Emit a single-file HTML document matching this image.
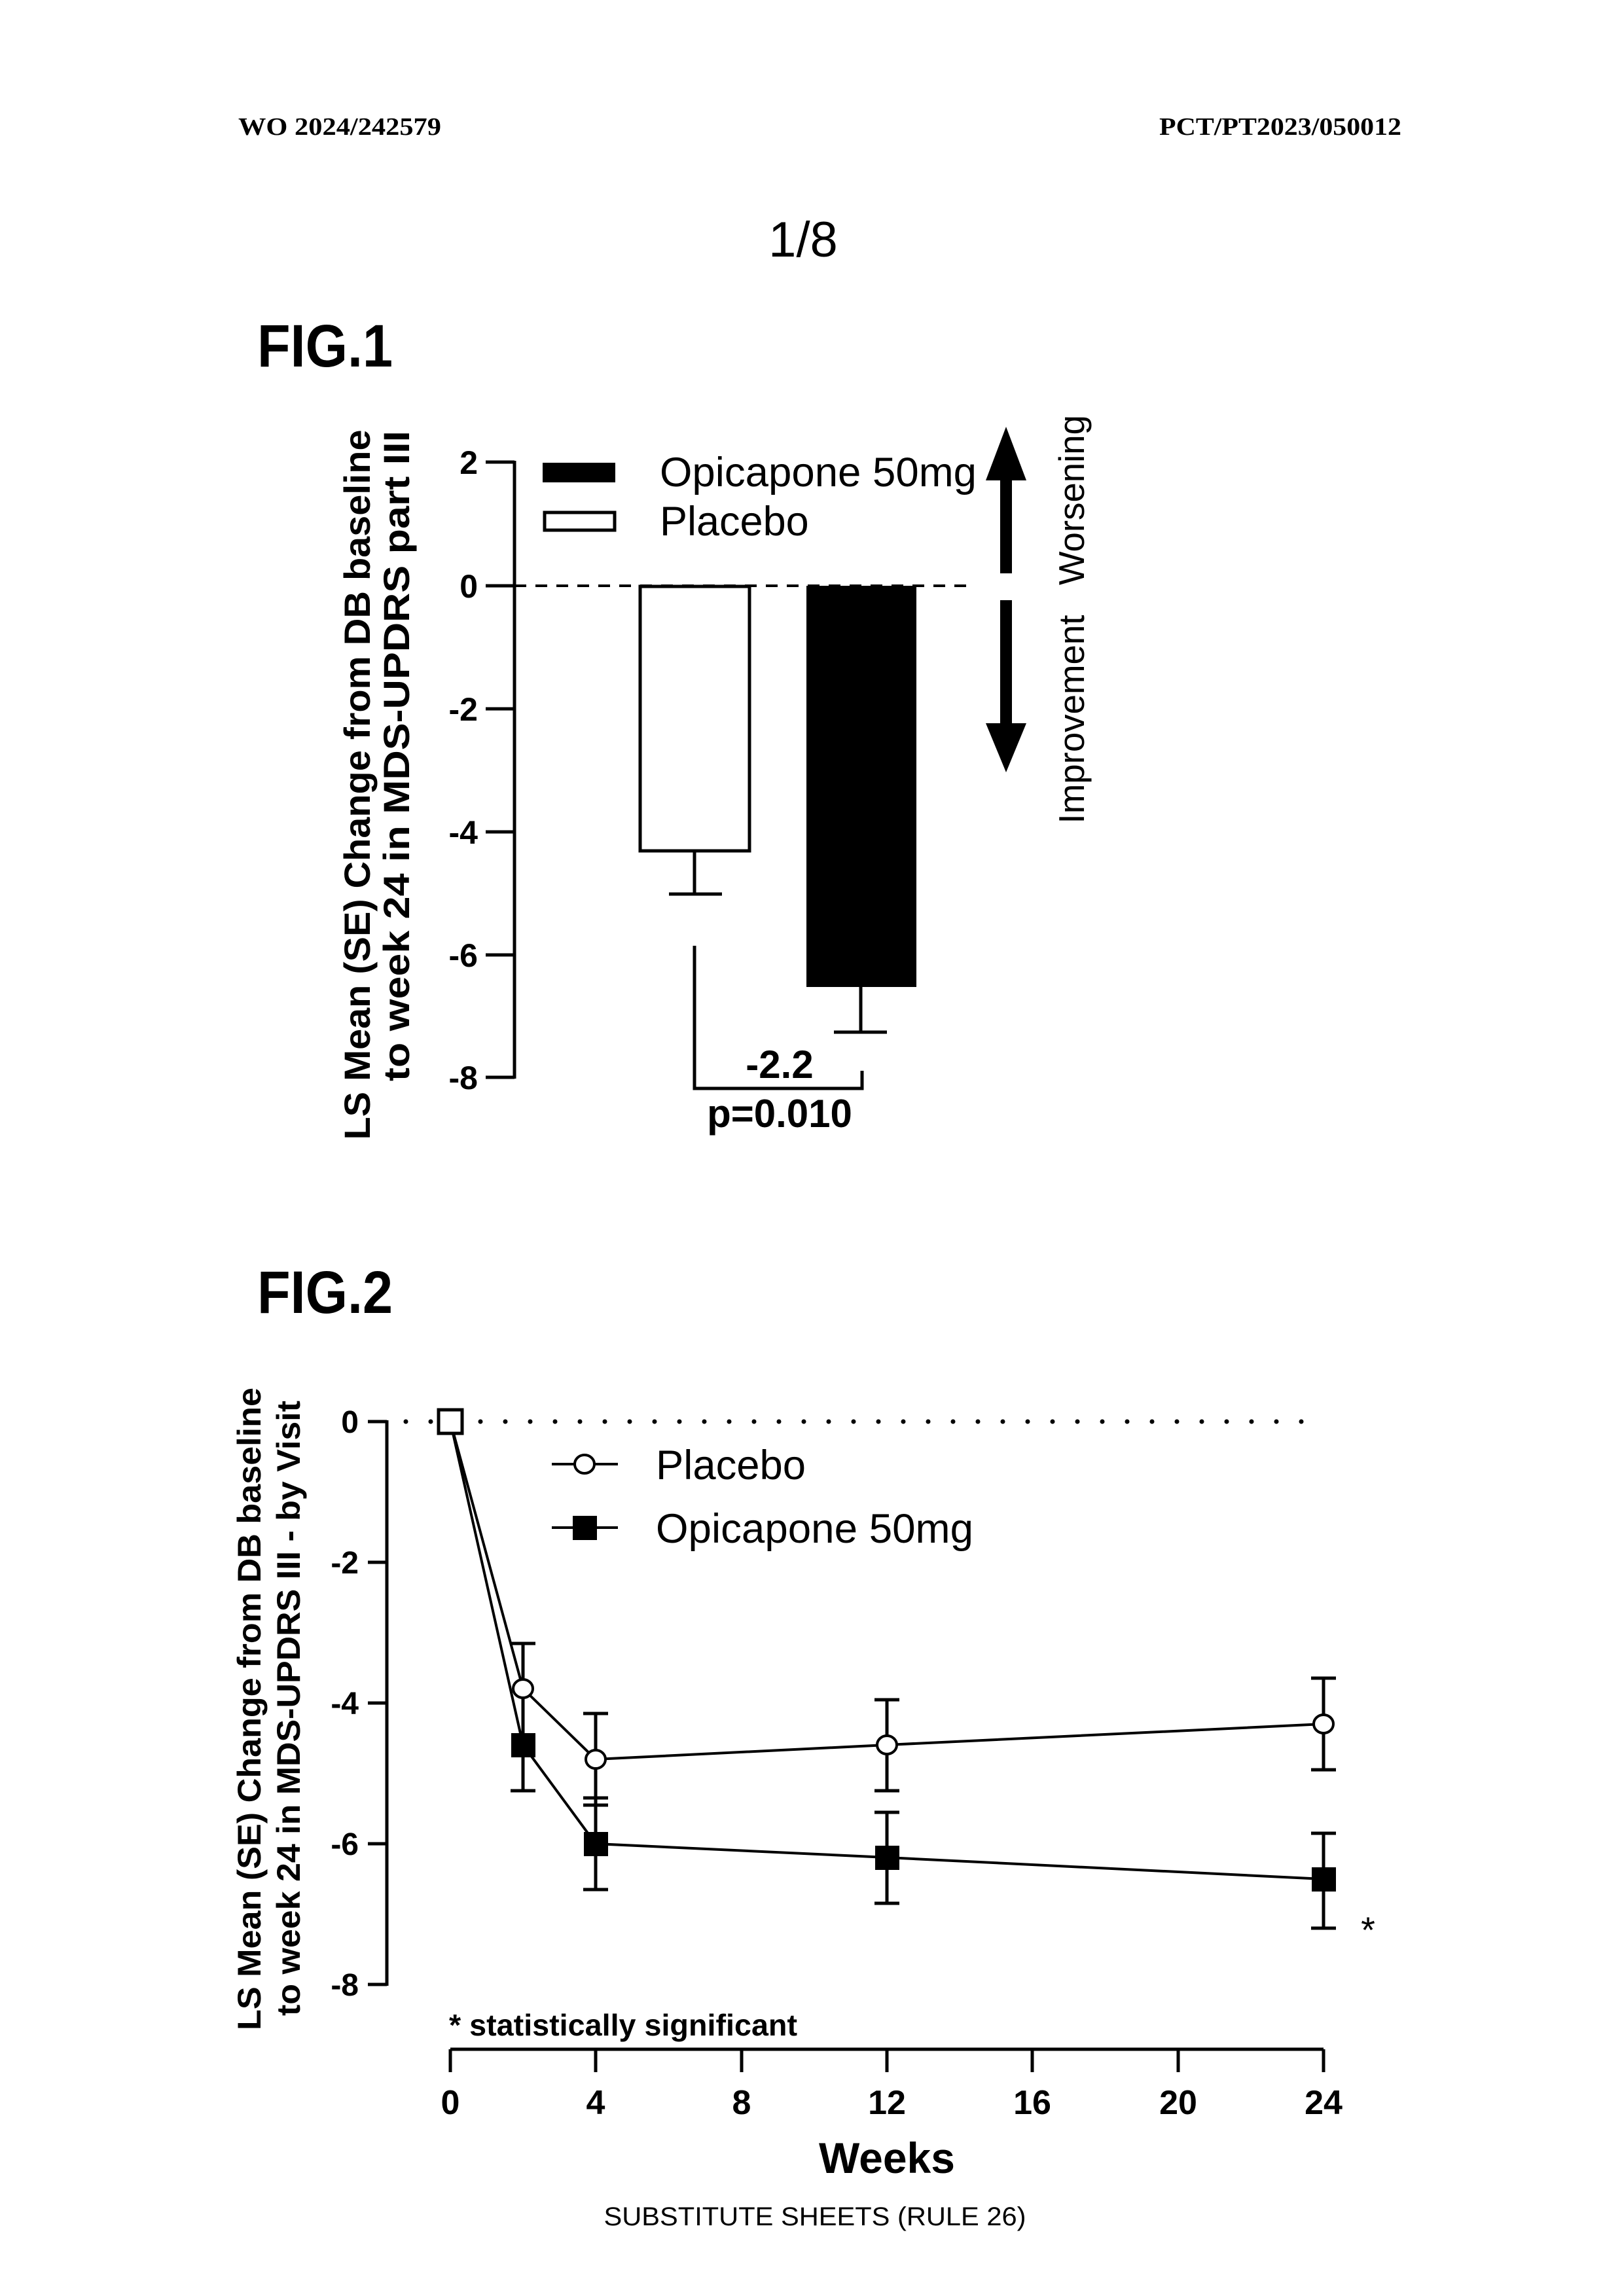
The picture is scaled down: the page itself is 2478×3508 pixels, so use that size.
<!DOCTYPE html>
<html><head><meta charset="utf-8"><style>
html,body{margin:0;padding:0;background:#fff;}
svg{display:block;}
text{font-family:"Liberation Sans",Arial,sans-serif;fill:#000;}
</style></head><body>
<svg width="2478" height="3508" viewBox="0 0 2478 3508" xmlns="http://www.w3.org/2000/svg">
<rect width="2478" height="3508" fill="#fff"/>
<!-- header -->
<text x="364" y="206" style="font-family:'Liberation Serif',serif;font-weight:bold;font-size:38px" textLength="310" lengthAdjust="spacingAndGlyphs">WO 2024/242579</text>
<text x="1771" y="206" style="font-family:'Liberation Serif',serif;font-weight:bold;font-size:38px" textLength="370" lengthAdjust="spacingAndGlyphs">PCT/PT2023/050012</text>
<text x="1227" y="392" text-anchor="middle" font-size="76">1/8</text>
<text x="393" y="560" font-size="92" font-weight="bold" textLength="207" lengthAdjust="spacingAndGlyphs">FIG.1</text>

<!-- FIG1 -->
<g stroke="#000" stroke-width="5" fill="none">
<line x1="786" y1="704" x2="786" y2="1648"/>
<line x1="742" y1="706" x2="786" y2="706"/>
<line x1="742" y1="895" x2="786" y2="895"/>
<line x1="742" y1="1083" x2="786" y2="1083"/>
<line x1="742" y1="1271" x2="786" y2="1271"/>
<line x1="742" y1="1459" x2="786" y2="1459"/>
<line x1="742" y1="1646" x2="786" y2="1646"/>
<line x1="786" y1="895" x2="1485" y2="895" stroke-width="4" stroke-dasharray="18 14"/>
<rect x="978" y="896" width="167" height="404" fill="#fff"/>
<line x1="1061" y1="1300" x2="1061" y2="1366"/>
<line x1="1022" y1="1366" x2="1103" y2="1366"/>
<line x1="1315" y1="1508" x2="1315" y2="1577"/>
<line x1="1274" y1="1577" x2="1355" y2="1577"/>
<polyline points="1061,1445 1061,1663 1317,1663 1317,1636"/>
<rect x="832" y="783" width="107" height="27" fill="#fff"/>
</g>
<rect x="1232" y="895" width="168" height="613" fill="#000"/>
<rect x="829" y="707" width="111" height="30" fill="#000"/>
<g font-weight="bold" font-size="50" text-anchor="end">
<text x="730" y="724">2</text>
<text x="730" y="913">0</text>
<text x="730" y="1101">-2</text>
<text x="730" y="1289">-4</text>
<text x="730" y="1477">-6</text>
<text x="730" y="1664">-8</text>
</g>
<text x="1191" y="1647" text-anchor="middle" font-size="60" font-weight="bold">-2.2</text>
<text x="1191" y="1722" text-anchor="middle" font-size="60" font-weight="bold">p=0.010</text>
<text x="1008" y="743" font-size="63" textLength="484" lengthAdjust="spacingAndGlyphs">Opicapone 50mg</text>
<text x="1008" y="818" font-size="63">Placebo</text>
<!-- arrows -->
<rect x="1528" y="730" width="18" height="146" fill="#000"/>
<polygon points="1537,652 1506,734 1568,734" fill="#000"/>
<rect x="1528" y="917" width="18" height="192" fill="#000"/>
<polygon points="1537,1180 1506,1105 1568,1105" fill="#000"/>
<text transform="translate(1656,764) rotate(-90)" text-anchor="middle" font-size="55" textLength="260" lengthAdjust="spacingAndGlyphs">Worsening</text>
<text transform="translate(1656,1099) rotate(-90)" text-anchor="middle" font-size="55" textLength="319" lengthAdjust="spacingAndGlyphs">Improvement</text>
<text transform="translate(565,1199) rotate(-90)" text-anchor="middle" font-size="56" font-weight="bold" textLength="1085" lengthAdjust="spacingAndGlyphs">LS Mean (SE) Change from DB baseline</text>
<text transform="translate(625,1155) rotate(-90)" text-anchor="middle" font-size="56" font-weight="bold" textLength="994" lengthAdjust="spacingAndGlyphs">to week 24 in MDS-UPDRS part III</text>

<!-- FIG2 -->
<g transform="translate(0,-10)">
<text x="393" y="2016" font-size="92" font-weight="bold" textLength="207" lengthAdjust="spacingAndGlyphs">FIG.2</text>
<g stroke="#000" stroke-width="5" fill="none">
<line x1="591" y1="2180" x2="591" y2="3044"/>
<line x1="562" y1="2182" x2="591" y2="2182"/>
<line x1="562" y1="2397" x2="591" y2="2397"/>
<line x1="562" y1="2612" x2="591" y2="2612"/>
<line x1="562" y1="2827" x2="591" y2="2827"/>
<line x1="562" y1="3042" x2="591" y2="3042"/>
<line x1="620" y1="2182" x2="2002" y2="2182" stroke-width="7" stroke-dasharray="0 38" stroke-linecap="round"/>
<line x1="688" y1="3141" x2="2022" y2="3141"/>
<line x1="688" y1="3141" x2="688" y2="3176"/>
<line x1="910" y1="3141" x2="910" y2="3176"/>
<line x1="1133" y1="3141" x2="1133" y2="3176"/>
<line x1="1355" y1="3141" x2="1355" y2="3176"/>
<line x1="1577" y1="3141" x2="1577" y2="3176"/>
<line x1="1800" y1="3141" x2="1800" y2="3176"/>
<line x1="2022" y1="3141" x2="2022" y2="3176"/>
<g stroke-width="5">
<path d="M799,2521 V2660 M780,2521 H818 M910,2628 V2768 M891,2628 H929 M891,2768 H929 M1355,2607 V2746 M1336,2607 H1374 M1336,2746 H1374 M2022,2574 V2714 M2003,2574 H2041 M2003,2714 H2041"/>
<path d="M799,2607 V2746 M780,2746 H818 M910,2757 V2897 M891,2757 H929 M891,2897 H929 M1355,2779 V2918 M1336,2779 H1374 M1336,2918 H1374 M2022,2811 V2956 M2003,2811 H2041 M2003,2956 H2041"/>
</g>
<polyline stroke-width="4" points="688,2182 799,2590 910,2698 1355,2676 2022,2644"/>
<polyline stroke-width="4" points="688,2182 799,2676 910,2827 1355,2848 2022,2881"/>
<line x1="843" y1="2247" x2="944" y2="2247" stroke-width="4"/>
<line x1="843" y1="2344" x2="944" y2="2344" stroke-width="4"/>
</g>
<g fill="#000">
<rect x="670" y="2164" width="36" height="36" fill="#fff" stroke="#000" stroke-width="5"/>
<rect x="781" y="2658" width="37" height="37"/>
<rect x="892" y="2809" width="37" height="37"/>
<rect x="1337" y="2830" width="37" height="37"/>
<rect x="2004" y="2863" width="37" height="37"/>
<rect x="875" y="2326" width="37" height="37"/>
</g>
<g fill="#fff" stroke="#000" stroke-width="4">
<ellipse cx="799" cy="2590" rx="15" ry="14"/>
<ellipse cx="910" cy="2698" rx="15" ry="14"/>
<ellipse cx="1355" cy="2676" rx="15" ry="14"/>
<ellipse cx="2022" cy="2644" rx="15" ry="14"/>
<ellipse cx="893" cy="2247" rx="15" ry="14"/>
</g>
<g font-weight="bold" font-size="48" text-anchor="end">
<text x="548" y="2199">0</text>
<text x="548" y="2414">-2</text>
<text x="548" y="2629">-4</text>
<text x="548" y="2844">-6</text>
<text x="548" y="3059">-8</text>
</g>
<g font-weight="bold" font-size="52" text-anchor="middle">
<text x="688" y="3240">0</text>
<text x="910" y="3240">4</text>
<text x="1133" y="3240">8</text>
<text x="1355" y="3240">12</text>
<text x="1577" y="3240">16</text>
<text x="1800" y="3240">20</text>
<text x="2022" y="3240">24</text>
</g>
<text x="1355" y="3330" text-anchor="middle" font-size="66" font-weight="bold">Weeks</text>
<text x="686" y="3120" font-size="46" font-weight="bold" textLength="532" lengthAdjust="spacingAndGlyphs">* statistically significant</text>
<text x="2090" y="2978" text-anchor="middle" font-size="56">*</text>
<text x="1002" y="2270" font-size="63" textLength="229" lengthAdjust="spacingAndGlyphs">Placebo</text>
<text x="1002" y="2367" font-size="63" textLength="485" lengthAdjust="spacingAndGlyphs">Opicapone 50mg</text>
<text transform="translate(398,2621) rotate(-90)" text-anchor="middle" font-size="50" font-weight="bold" textLength="982" lengthAdjust="spacingAndGlyphs">LS Mean (SE) Change from DB baseline</text>
<text transform="translate(458,2620) rotate(-90)" text-anchor="middle" font-size="50" font-weight="bold" textLength="940" lengthAdjust="spacingAndGlyphs">to week 24 in MDS-UPDRS III - by Visit</text>
<text x="1245" y="3410" text-anchor="middle" font-size="40" textLength="645" lengthAdjust="spacingAndGlyphs">SUBSTITUTE SHEETS (RULE 26)</text>
</g>
</svg>
</body></html>
